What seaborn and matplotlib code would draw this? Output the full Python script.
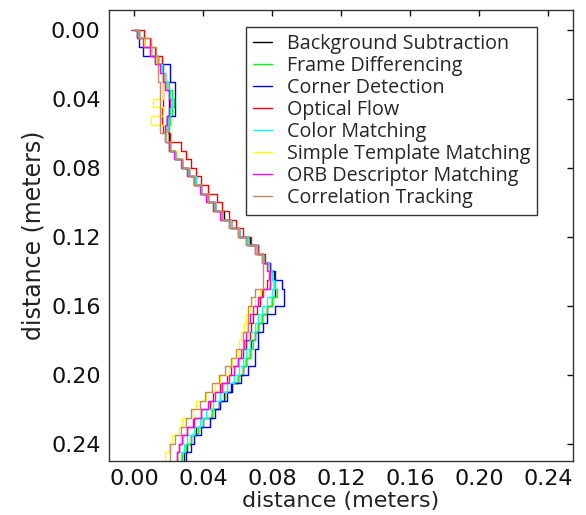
import numpy as np
import pandas as pd
import matplotlib
matplotlib.use("Agg")
import matplotlib.pyplot as plt
import seaborn as sns

# depth along the path (meters), shared by all methods
depth = [0.000, 0.005, 0.010, 0.015, 0.020, 0.025, 0.030, 0.035, 0.040, 0.045,
         0.050, 0.055, 0.060, 0.065, 0.070, 0.075, 0.080, 0.085, 0.090, 0.095,
         0.100, 0.105, 0.110, 0.115, 0.120, 0.125, 0.130, 0.135, 0.140, 0.145,
         0.150, 0.155, 0.160, 0.165, 0.170, 0.175, 0.180, 0.185, 0.190, 0.195,
         0.200, 0.205, 0.210, 0.215, 0.220, 0.225, 0.230, 0.235, 0.240, 0.245,
         0.250]

background = [0.000, 0.003, 0.006, 0.010, 0.014, 0.016, 0.018, 0.019, 0.020, 0.020,
              0.020, 0.019, 0.019, 0.019, 0.020, 0.024, 0.028, 0.032, 0.035, 0.039,
              0.043, 0.047, 0.052, 0.056, 0.061, 0.067, 0.072, 0.075, 0.079, 0.081,
              0.081, 0.082, 0.080, 0.077, 0.074, 0.072, 0.070, 0.068, 0.067, 0.065,
              0.063, 0.060, 0.056, 0.052, 0.049, 0.045, 0.040, 0.036, 0.033, 0.031,
              0.029]
frame_diff = [0.000, 0.003, 0.006, 0.010, 0.013, 0.016, 0.018, 0.020, 0.022, 0.023,
              0.022, 0.021, 0.020, 0.019, 0.021, 0.025, 0.028, 0.031, 0.035, 0.039,
              0.042, 0.046, 0.051, 0.056, 0.061, 0.066, 0.071, 0.075, 0.078, 0.080,
              0.082, 0.083, 0.080, 0.077, 0.074, 0.072, 0.070, 0.069, 0.067, 0.065,
              0.063, 0.060, 0.057, 0.053, 0.049, 0.045, 0.040, 0.037, 0.033, 0.030,
              0.028]
corner = [0.000, 0.002, 0.003, 0.005, 0.012, 0.021, 0.021, 0.024, 0.024, 0.024,
          0.024, 0.019, 0.019, 0.020, 0.021, 0.024, 0.028, 0.032, 0.035, 0.039,
          0.043, 0.047, 0.051, 0.056, 0.061, 0.066, 0.071, 0.075, 0.079, 0.082,
          0.086, 0.087, 0.087, 0.082, 0.077, 0.075, 0.072, 0.072, 0.070, 0.070,
          0.066, 0.062, 0.057, 0.054, 0.050, 0.047, 0.044, 0.039, 0.035, 0.033,
          0.030]
optical = [0.003, 0.006, 0.009, 0.012, 0.016, 0.017, 0.017, 0.017, 0.017, 0.017,
           0.016, 0.016, 0.017, 0.021, 0.027, 0.030, 0.033, 0.036, 0.039, 0.043,
           0.048, 0.051, 0.055, 0.059, 0.063, 0.068, 0.072, 0.076, 0.078, 0.078,
           0.077, 0.074, 0.073, 0.071, 0.069, 0.068, 0.067, 0.065, 0.063, 0.060,
           0.056, 0.054, 0.050, 0.046, 0.044, 0.039, 0.034, 0.031, 0.028, 0.026,
           0.025]
color_match = [0.000, 0.002, 0.006, 0.009, 0.013, 0.016, 0.018, 0.019, 0.021, 0.022,
               0.021, 0.020, 0.019, 0.019, 0.021, 0.024, 0.028, 0.032, 0.036, 0.039,
               0.043, 0.047, 0.051, 0.056, 0.061, 0.066, 0.071, 0.075, 0.078, 0.080,
               0.081, 0.080, 0.077, 0.074, 0.072, 0.070, 0.068, 0.067, 0.065, 0.063,
               0.061, 0.058, 0.054, 0.050, 0.046, 0.042, 0.038, 0.035, 0.031, 0.029,
               0.027]
template = [-0.002, 0.002, 0.006, 0.010, 0.013, 0.015, 0.017, 0.017, 0.017, 0.011,
            0.017, 0.010, 0.018, 0.019, 0.021, 0.025, 0.028, 0.032, 0.035, 0.039,
            0.043, 0.046, 0.051, 0.055, 0.060, 0.065, 0.070, 0.074, 0.077, 0.079,
            0.078, 0.073, 0.070, 0.067, 0.065, 0.064, 0.062, 0.061, 0.060, 0.057,
            0.055, 0.050, 0.047, 0.042, 0.036, 0.034, 0.028, 0.026, 0.022, 0.020,
            0.018]
orb = [-0.002, 0.002, 0.005, 0.009, 0.012, 0.015, 0.017, 0.018, 0.020, 0.021,
       0.020, 0.019, 0.018, 0.018, 0.020, 0.023, 0.027, 0.031, 0.035, 0.038,
       0.042, 0.046, 0.050, 0.055, 0.060, 0.065, 0.070, 0.074, 0.077, 0.079,
       0.079, 0.075, 0.072, 0.069, 0.067, 0.066, 0.065, 0.064, 0.062, 0.060,
       0.058, 0.055, 0.051, 0.047, 0.043, 0.039, 0.035, 0.031, 0.028, 0.026,
       0.025]
correlation = [0.000, 0.003, 0.010, 0.013, 0.014, 0.014, 0.014, 0.015, 0.015, 0.015,
               0.015, 0.015, 0.015, 0.018, 0.021, 0.024, 0.028, 0.032, 0.035, 0.039,
               0.043, 0.047, 0.051, 0.055, 0.060, 0.065, 0.070, 0.074, 0.075, 0.075,
               0.075, 0.070, 0.068, 0.066, 0.066, 0.066, 0.063, 0.063, 0.059, 0.056,
               0.053, 0.049, 0.045, 0.041, 0.038, 0.033, 0.030, 0.027, 0.024, 0.021,
               0.021]

labels = ["Background Subtraction", "Frame Differencing", "Corner Detection",
          "Optical Flow", "Color Matching", "Simple Template Matching",
          "ORB Descriptor Matching", "Correlation Tracking"]
series = [background, frame_diff, corner, optical, color_match, template, orb, correlation]
colors = ["#000000", "#00ff00", "#0000ff", "#ff0000", "#00ffff", "#ffff00",
          "#ff00ff", "#c08a68"]
ticks = [0.00, 0.04, 0.08, 0.12, 0.16, 0.20, 0.24]

sns.set_style("white")
plt.rcParams["font.family"] = ["DejaVu Sans"]

fig = plt.figure(figsize=(5.86, 5.15), dpi=100)
ax = fig.add_axes([0.186, 0.105, 0.792, 0.876])

for xs, lab, col in zip(series, labels, colors):
    sns.lineplot(x=xs, y=depth, ax=ax, sort=False, estimator=None, color=col,
                 label=lab, lw=1.0, drawstyle="steps-post")

ax.set_xlim(-0.0145, 0.2545)
ax.set_ylim(0.2499, -0.0116)
ax.set_xticks(ticks)
ax.set_yticks(ticks)
ax.set_xticklabels([f"{t:.2f}" for t in ticks])
ax.set_yticklabels([f"{t:.2f}" for t in ticks])
ax.tick_params(direction="in", length=4, width=1, top=True, right=True,
               labelsize=16, colors="#111111", pad=6)
for s in ax.spines.values():
    s.set_color("#333333")
    s.set_linewidth(1.0)
ax.set_xlabel("distance (meters)", fontsize=16, color="#222222", labelpad=1)
ax.set_ylabel("distance (meters)", fontsize=17, color="#222222", labelpad=4)

leg = ax.legend(loc="upper right", bbox_to_anchor=(0.922, 0.962), borderaxespad=0,
                prop={"family": "Open Sans", "size": 14.2}, frameon=True,
                fancybox=False, handlelength=0.95, handletextpad=0.75,
                labelspacing=0.1, borderpad=0.35)
leg.get_frame().set_edgecolor("black")
leg.get_frame().set_linewidth(1.0)
for h in leg.get_lines():
    h.set_linewidth(1.0)

fig.savefig("out.png", dpi=100)
